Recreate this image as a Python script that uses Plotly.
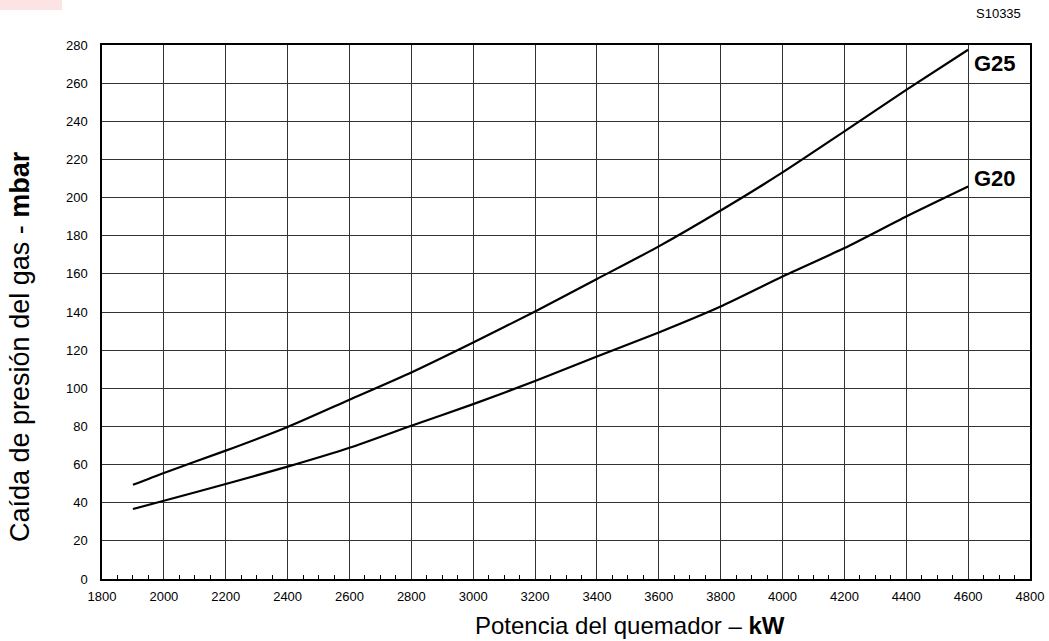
import plotly.graph_objects as go

potencia_kw = [1900, 2000, 2200, 2400, 2600, 2800, 3000, 3200, 3400, 3600, 3800, 4000, 4200, 4400, 4600]
g25_mbar = [49.4, 55.6, 67.3, 79.7, 94.0, 108.3, 124.0, 140.3, 157.3, 174.4, 193.2, 213.2, 234.7, 256.5, 277.5]
g20_mbar = [36.7, 41.0, 49.8, 58.9, 68.8, 80.4, 91.7, 103.8, 116.7, 129.3, 142.9, 158.6, 173.5, 190.1, 205.8]
series_names = ["G25", "G20"]

W, H = 1049, 641
L, R, T, B = 102, 19, 45, 62
pw, ph = W - L - R, H - T - B

def px(xp):
    return (xp - L) / pw

def py(yp):
    return (H - B - yp) / ph

FONT = "Liberation Sans, Arial"
label_offsets = [-7, 4]

fig = go.Figure()
for name, vals, off in zip(series_names, [g25_mbar, g20_mbar], label_offsets):
    fig.add_trace(go.Scatter(x=potencia_kw, y=vals, mode="lines", name=name,
                             line=dict(color="black", width=2.2, shape="spline", smoothing=0.6)))
    fig.add_annotation(x=potencia_kw[-1], y=vals[-1] + off, text="<b>%s</b>" % name,
                       xref="x", yref="y", xanchor="left", yanchor="middle", xshift=4,
                       showarrow=False, font=dict(size=22, color="black", family=FONT))

fig.add_annotation(x=px(630), y=py(625), xref="paper", yref="paper",
                   text="Potencia del quemador – <b>kW</b>", showarrow=False,
                   xanchor="center", yanchor="middle",
                   font=dict(size=24, color="black", family=FONT))
fig.add_annotation(x=px(20), y=py(347), xref="paper", yref="paper",
                   text="Caída de presión del gas - <b>mbar</b>", showarrow=False, textangle=-90,
                   xanchor="center", yanchor="middle",
                   font=dict(size=27, color="black", family=FONT))
fig.add_annotation(x=px(1023), y=py(14), xref="paper", yref="paper",
                   text="S10335", showarrow=False, xanchor="right", yanchor="middle",
                   font=dict(size=13, color="black", family=FONT))

fig.add_shape(type="rect", xref="paper", yref="paper",
              x0=px(0), x1=px(62), y0=py(10), y1=py(0),
              fillcolor="rgb(253,228,228)", line=dict(width=0), layer="below")

fig.update_layout(
    width=W, height=H, autosize=False,
    margin=dict(l=L, r=R, t=T, b=B, autoexpand=False),
    paper_bgcolor="white", plot_bgcolor="white",
    showlegend=False,
    font=dict(family=FONT, size=13, color="black"),
    xaxis=dict(range=[1800, 4800], dtick=200, tick0=1800, showgrid=True, automargin=False,
               gridcolor="#333333", gridwidth=1, showline=True, linecolor="black",
               linewidth=1.5, mirror=True, ticks="", zeroline=False,
               tickfont=dict(size=13), ticklabelstandoff=5,
               minor=dict(dtick=50, ticks="inside", ticklen=4, tickcolor="black",
                          showgrid=False)),
    yaxis=dict(range=[0, 280], dtick=20, showgrid=True, gridcolor="#333333", automargin=False,
               gridwidth=1, showline=True, linecolor="black", linewidth=1.5,
               mirror=True, ticks="", zeroline=False, tickfont=dict(size=13),
               ticklabelstandoff=10),
)

fig.write_html("out.html", config={"displayModeBar": False, "responsive": False})

with open("out.html", "r", encoding="utf-8") as f:
    html = f.read()
html = html.replace("<head>", "<head><style>html,body{margin:0;padding:0;overflow:hidden;}</style>", 1)
with open("out.html", "w", encoding="utf-8") as f:
    f.write(html)
